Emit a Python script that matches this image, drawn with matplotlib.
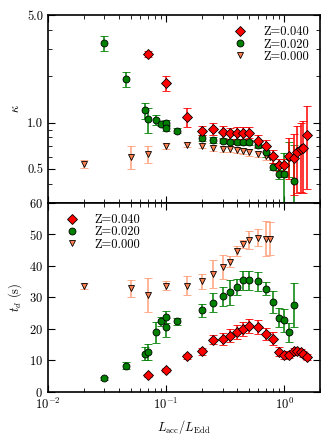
#!/usr/bin/env python3
import matplotlib
matplotlib.use("Agg")
import matplotlib.pyplot as plt
from matplotlib.lines import Line2D
from matplotlib.ticker import FormatStrFormatter, LogLocator, NullFormatter

plt.rcParams["font.family"] = ["cmr10", "DejaVu Serif"]
plt.rcParams["mathtext.fontset"] = "cm"
plt.rcParams["axes.formatter.use_mathtext"] = True
plt.rcParams["font.size"] = 9
plt.rcParams["axes.linewidth"] = 1.2

# Z = 0.040
red_x = [0.07, 0.10, 0.15, 0.20, 0.25, 0.30, 0.35, 0.40, 0.45, 0.50, 0.60,
         0.70, 0.80, 0.90, 1.00, 1.10, 1.20, 1.28, 1.37, 1.45, 1.55]
red_kappa = [2.8, 1.81, 1.09, 0.887, 0.914, 0.867, 0.853, 0.861, 0.861, 0.861, 0.76,
             0.706, 0.608, 0.531, 0.531, 0.608, 0.587, 0.648, 0.672, 0.688, 0.828]
red_kappa_err = [0.12, 0.2, 0.15, 0.06, 0.08, 0.08, 0.07, 0.08, 0.08, 0.07, 0.07,
                 0.06, 0.06, 0.05, 0.05, 0.18, 0.25, 0.3, 0.32, 0.34, 0.46]
red_td = [5.3, 7.0, 11.3, 12.9, 16.6, 16.8, 17.9, 19.0, 20.0, 21.0, 20.6,
          18.4, 16.9, 12.8, 11.7, 11.9, 12.9, 13.1, 12.7, 12.0, 11.0]
red_td_err = [0.5, 0.6, 0.8, 1.0, 1.5, 2.0, 2.0, 2.2, 2.2, 2.3, 2.2,
              2.0, 2.0, 1.5, 1.2, 1.0, 1.0, 1.0, 1.0, 1.0, 1.0]

# Z = 0.020
green_x = [0.030, 0.0455, 0.0664, 0.070, 0.082, 0.091, 0.10, 0.10, 0.123, 0.20, 0.25,
           0.30, 0.35, 0.40, 0.45, 0.50, 0.60, 0.70, 0.80, 0.90, 1.00, 1.10, 1.21]
green_kappa = [3.28, 1.92, 1.20, 1.05, 1.04, 0.985, 0.995, 0.924, 0.887, 0.796, 0.772,
               0.764, 0.753, 0.753, 0.746, 0.746, 0.72, 0.648, 0.518, 0.462, 0.462, 0.593, 0.42]
green_kappa_err = [0.38, 0.22, 0.15, 0.2, 0.08, 0.03, 0.05, 0.04, 0.03, 0.04, 0.03,
                   0.03, 0.03, 0.03, 0.03, 0.03, 0.04, 0.05, 0.03, 0.03, 0.17, 0.15, 0.3]
green_td = [4.3, 8.4, 12.2, 12.7, 19.0, 22.4, 23.8, 20.6, 22.4, 25.9, 28.3,
            30.4, 31.6, 33.4, 35.5, 35.5, 35.1, 32.8, 28.7, 23.6, 22.7, 18.9, 27.5]
green_td_err = [0.5, 1.0, 2.0, 2.5, 3.3, 1.5, 2.0, 3.0, 1.0, 2.0, 3.0,
                3.0, 4.0, 2.5, 3.0, 3.0, 3.0, 2.0, 3.5, 3.0, 3.5, 3.0, 7.0]

# Z = 0.000
orange_x = [0.0202, 0.0502, 0.070, 0.10, 0.15, 0.20, 0.25, 0.30, 0.35, 0.40,
            0.45, 0.50, 0.60, 0.70, 0.75]
orange_kappa = [0.537, 0.599, 0.624, 0.706, 0.72, 0.709, 0.688, 0.678, 0.672, 0.665,
                0.652, 0.639, 0.624, 0.603, 0.598]
orange_kappa_err = [0.03, 0.1, 0.08, 0.03, 0.03, 0.03, 0.03, 0.03, 0.03, 0.03,
                    0.03, 0.03, 0.03, 0.03, 0.03]
orange_td = [33.7, 32.9, 30.8, 33.8, 33.7, 35.1, 37.5, 39.7, 41.4, 44.8,
             47.0, 48.3, 48.9, 48.7, 48.7]
orange_td_err = [1.0, 2.6, 5.5, 1.5, 3.0, 2.4, 4.5, 3.7, 1.8, 1.5,
                 1.2, 2.8, 2.7, 5.5, 5.3]

series = [
    ("Z=0.000", orange_x, orange_kappa, orange_kappa_err, orange_td, orange_td_err,
     "v", "coral", "lightsalmon", 5),
    ("Z=0.020", green_x, green_kappa, green_kappa_err, green_td, green_td_err,
     "o", "green", "green", 5),
    ("Z=0.040", red_x, red_kappa, red_kappa_err, red_td, red_td_err,
     "D", "red", "red", 5.5),
]

fig = plt.figure(figsize=(3.30, 4.37), dpi=100)
ax1 = fig.add_axes([0.1455, 0.5355, 0.824, 0.430])
ax2 = fig.add_axes([0.1455, 0.103, 0.824, 0.4325], sharex=ax1)

leg_handles = []
for lab, x, k, ke, t, te, mk, col, ecol, ms in series:
    ax1.errorbar(x, k, yerr=ke, fmt=mk, color=col, mfc=col, mec="black", mew=0.6,
                 ms=ms, ecolor=ecol, elinewidth=1.1, capsize=3, capthick=1.1)
    ax2.errorbar(x, t, yerr=te, fmt=mk, color=col, mfc=col, mec="black", mew=0.6,
                 ms=ms, ecolor=ecol, elinewidth=1.1, capsize=3, capthick=1.1)
    leg_handles.append(Line2D([], [], ls="none", marker=mk, mfc=col, mec="black",
                              mew=0.6, ms=ms, label=lab))
leg_handles = leg_handles[::-1]

for ax in (ax1, ax2):
    ax.set_xscale("log")
    ax.set_xlim(0.01, 2.0)
    ax.tick_params(which="both", direction="in", top=True, right=True)
    ax.tick_params(which="major", length=5)
    ax.tick_params(which="minor", length=3)

ax1.set_yscale("log")
ax1.set_ylim(0.3, 5.0)
ax1.set_yticks([0.5, 1.0, 5.0])
ax1.yaxis.set_major_formatter(FormatStrFormatter("%.1f"))
ax1.yaxis.set_minor_locator(LogLocator(base=10, subs=range(1, 10)))
ax1.yaxis.set_minor_formatter(NullFormatter())
ax1.tick_params(labelbottom=False)
ax1.set_ylabel(r"$\kappa$")

ax2.set_ylim(0, 60)
ax2.set_yticks(range(0, 61, 10))
ax2.set_ylabel(r"$t_d$ (s)")
ax2.set_xlabel(r"$L_{\rm acc}/L_{\rm Edd}$")

ax1.legend(handles=leg_handles, loc="upper right", frameon=False, numpoints=1,
           labelspacing=0.0, fontsize=9)
ax2.legend(handles=leg_handles, loc="upper left", frameon=False, numpoints=1,
           labelspacing=0.0, fontsize=9)

fig.savefig("out.png", dpi=100)
